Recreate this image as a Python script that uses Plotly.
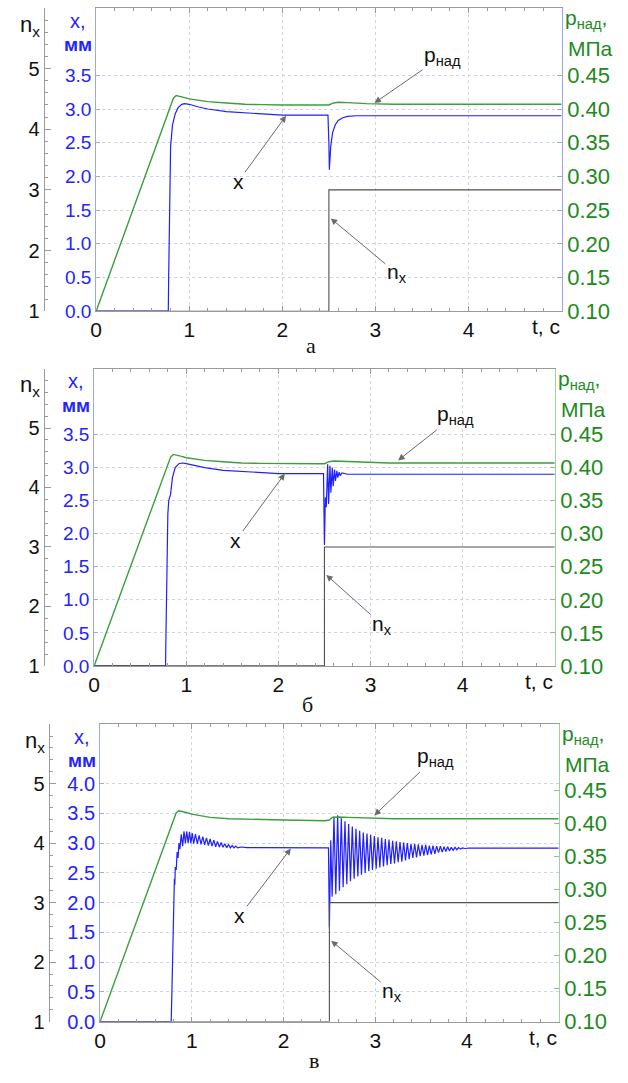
import plotly.graph_objects as go

# ======================= DATA =======================
# time axis ticks and labels
t_ticks = [0, 1, 2, 3, 4]
t_ticktext = ["0", "1", "2", "3", "4"]
x_ticks_ab = [0.0, 0.5, 1.0, 1.5, 2.0, 2.5, 3.0, 3.5]
x_ticks_c = [0.0, 0.5, 1.0, 1.5, 2.0, 2.5, 3.0, 3.5, 4.0]
p_ticks = [0.10, 0.15, 0.20, 0.25, 0.30, 0.35, 0.40, 0.45]
n_ticks = [1, 2, 3, 4, 5]
captions = ["а", "б", "в"]

# n_x step (identical in all three panels)
t_n = [0.0, 2.5, 2.5, 5.0]
n_x = [1, 1, 3, 3]

# ---- panel а ----
t_x_a = [0.0, 0.775, 0.78, 0.79, 0.80, 0.82, 0.85, 0.88, 0.92, 0.95, 1.00, 1.10, 1.20,
         1.40, 1.60, 1.80, 2.00, 2.20, 2.49, 2.50, 2.505, 2.52, 2.54, 2.57, 2.60, 2.65,
         2.70, 2.80, 3.00, 5.00]
x_a = [0.0, 0.0, 0.6, 1.7, 2.45, 2.76, 2.93, 3.02, 3.07, 3.08, 3.07, 3.03, 3.00,
       2.96, 2.94, 2.92, 2.91, 2.91, 2.91, 2.50, 2.10, 2.45, 2.65, 2.77, 2.83, 2.87,
       2.89, 2.90, 2.90, 2.90]
t_p_a = [0.0, 0.83, 0.86, 0.90, 0.95, 1.00, 1.10, 1.20, 1.40, 1.60, 1.80, 2.00, 2.45,
         2.50, 2.55, 2.60, 2.70, 2.90, 3.20, 5.00]
p_a = [0.100, 0.416, 0.420, 0.419, 0.417, 0.415, 0.413, 0.411, 0.409, 0.407, 0.4065,
       0.406, 0.406, 0.406, 0.409, 0.410, 0.4095, 0.408, 0.407, 0.407]

# ---- panel б ----
t_x_b = [0.0, 0.775, 0.78, 0.79, 0.80, 0.81, 0.83, 0.85, 0.88, 0.92, 0.96, 1.00, 1.10,
         1.20, 1.40, 1.60, 1.80, 2.00, 2.49, 2.50, 2.51, 2.52, 2.535, 2.545, 2.56, 2.57,
         2.585, 2.595, 2.61, 2.62, 2.635, 2.645, 2.66, 2.67, 2.69, 2.75, 5.00]
x_b = [0.0, 0.0, 0.5, 1.5, 2.3, 2.5, 2.6, 2.85, 3.00, 3.06, 3.07, 3.06, 3.03,
       3.00, 2.96, 2.94, 2.92, 2.91, 2.91, 1.83, 2.55, 2.40, 3.05, 2.45, 3.03, 2.62,
       3.00, 2.72, 2.97, 2.80, 2.95, 2.85, 2.93, 2.88, 2.92, 2.90, 2.90]
t_p_b = [0.0, 0.83, 0.86, 0.90, 0.95, 1.00, 1.10, 1.20, 1.40, 1.60, 1.80, 2.00, 2.45,
         2.50, 2.55, 2.60, 2.70, 2.90, 3.20, 5.00]
p_b = [0.100, 0.416, 0.420, 0.419, 0.417, 0.415, 0.413, 0.411, 0.409, 0.407, 0.4065,
       0.406, 0.406, 0.406, 0.409, 0.410, 0.4095, 0.408, 0.407, 0.407]

# ---- panel в ----
t_x_c = [0.0, 0.775, 0.78, 0.79, 0.80, 0.81, 0.815, 0.82, 0.83, 0.84, 0.85, 0.86, 0.87,
         0.885, 0.90, 0.915, 0.93, 0.945, 0.96, 0.975, 0.99, 1.005, 1.02, 1.04, 1.06,
         1.08, 1.10, 1.12, 1.14, 1.16, 1.18, 1.20, 1.22, 1.24, 1.26, 1.28, 1.30, 1.32,
         1.34, 1.36, 1.38, 1.40, 1.42, 1.44, 1.46, 1.48, 1.50, 1.54, 1.60, 2.00, 2.49,
         2.50, 2.515, 2.53, 2.55, 2.57, 2.59, 2.61, 2.63, 2.65, 2.67, 2.69, 2.71, 2.73,
         2.75, 2.77, 2.79, 2.81, 2.83, 2.85, 2.87, 2.89, 2.91, 2.93, 2.95, 2.97, 2.99,
         3.01, 3.03, 3.05, 3.07, 3.09, 3.11, 3.13, 3.15, 3.17, 3.19, 3.21, 3.23, 3.25,
         3.27, 3.29, 3.31, 3.33, 3.35, 3.37, 3.39, 3.41, 3.43, 3.45, 3.47, 3.49, 3.51,
         3.53, 3.55, 3.57, 3.59, 3.61, 3.63, 3.65, 3.67, 3.69, 3.71, 3.73, 3.75, 3.77,
         3.79, 3.81, 3.83, 3.85, 3.87, 3.89, 3.91, 3.93, 3.95, 3.98, 4.02, 5.00]
x_c = [0.0, 0.0, 0.3, 1.2, 2.0, 2.4, 2.3, 2.6, 2.55, 2.85, 2.75, 3.0, 2.9,
       3.15, 2.95, 3.2, 3.0, 3.2, 3.0, 3.19, 3.0, 3.17, 2.99, 3.15, 2.99,
       3.13, 2.98, 3.11, 2.97, 3.09, 2.96, 3.07, 2.95, 3.05, 2.94, 3.03, 2.935, 3.01,
       2.93, 2.99, 2.925, 2.975, 2.92, 2.96, 2.92, 2.95, 2.92, 2.935, 2.925, 2.92, 2.92,
       1.58, 3.05, 2.10, 3.45, 2.14, 3.47, 2.20, 3.42, 2.26, 3.37, 2.31, 3.32, 2.36,
       3.28, 2.40, 3.24, 2.44, 3.21, 2.47, 3.18, 2.50, 3.16, 2.53, 3.14, 2.55, 3.12,
       2.57, 3.10, 2.59, 3.09, 2.61, 3.07, 2.63, 3.06, 2.65, 3.04, 2.66, 3.03, 2.68,
       3.02, 2.69, 3.01, 2.71, 3.00, 2.73, 2.99, 2.75, 2.99, 2.76, 2.98, 2.78, 2.97,
       2.79, 2.97, 2.80, 2.96, 2.81, 2.96, 2.82, 2.95, 2.84, 2.95, 2.85, 2.94, 2.86,
       2.94, 2.87, 2.93, 2.88, 2.93, 2.89, 2.925, 2.90, 2.92, 2.91, 2.915, 2.915]
t_p_c = [0.0, 0.83, 0.86, 0.90, 0.95, 1.00, 1.10, 1.20, 1.40, 1.60, 2.00, 2.45, 2.50,
         2.53, 2.60, 2.70, 2.90, 3.20, 5.00]
p_c = [0.100, 0.416, 0.419, 0.418, 0.416, 0.414, 0.411, 0.409, 0.407, 0.406, 0.405,
       0.404, 0.405, 0.409, 0.4095, 0.409, 0.408, 0.407, 0.407]

# annotation anchor points (data coords) : (t, value)
ann_x = [(2.04, 2.90), (2.07, 2.91), (2.08, 2.91)]
ann_p = [(2.99, 0.409), (3.30, 0.411), (2.99, 0.412)]
ann_n = [(2.52, 2.53), (2.52, 2.53), (2.52, 2.36)]

# ======================= STYLE / LAYOUT =======================
W, H = 628, 1083
FONT = "Liberation Sans, Arial, sans-serif"
BLUE_LINE = "#1f1fff"
BLUE_TXT = "#2323ff"
GREEN_LINE = "#3c9e3c"
GREEN_TXT = "#1d8a1d"
GRAY = "#9a9a9a"

panels = [
    dict(left=91, right=561, top=8, bottom=315, xmax=4.5, xt=x_ticks_ab, nxpos=38,
         rline="#9aa6f0", tx=t_x_a, xv=x_a, tp=t_p_a, pv=p_a, xs=19,
         ax_x=(-48, 66), ax_p=(68, -47), ax_n=(66, 55), cap_y=350, cap_x=308),
    dict(left=89, right=554, top=373, bottom=674, xmax=4.5, xt=x_ticks_ab, nxpos=38,
         rline="#9fd09f", tx=t_x_b, xv=x_b, tp=t_p_b, pv=p_b, xs=19,
         ax_x=(-49, 67), ax_p=(57, -45), ax_n=(56, 50), cap_y=713, cap_x=304),
    dict(left=95, right=558, top=733, bottom=1034, xmax=5.0, xt=x_ticks_c, nxpos=43,
         rline="#9fd09f", tx=t_x_c, xv=x_c, tp=t_p_c, pv=p_c, xs=20,
         ax_x=(-51, 67), ax_p=(61, -58), ax_n=(61, 51), cap_y=1073, cap_x=311),
]


def fx(px):
    return px / W


def fy(py):
    return 1 - py / H


fig = go.Figure()
layout = dict(width=W, height=H, autosize=False, margin=dict(l=0, r=0, t=0, b=0),
              paper_bgcolor="white", plot_bgcolor="white", showlegend=False,
              font=dict(family=FONT, size=18, color="black"))
annotations = []

for i, P in enumerate(panels):
    k = i + 1
    xname = "x" if k == 1 else f"x{k}"
    xkey = "xaxis" if k == 1 else f"xaxis{k}"
    yb, yp, yn = 3 * i + 1, 3 * i + 2, 3 * i + 3
    ybn = "y" if yb == 1 else f"y{yb}"
    ybkey = "yaxis" if yb == 1 else f"yaxis{yb}"
    ypn, ypkey = f"y{yp}", f"yaxis{yp}"
    ynn, ynkey = f"y{yn}", f"yaxis{yn}"

    # traces
    fig.add_trace(go.Scatter(x=P["tp"], y=P["pv"], xaxis=xname, yaxis=ypn, mode="lines",
                             line=dict(color=GREEN_LINE, width=1.4), hoverinfo="skip"))
    fig.add_trace(go.Scatter(x=P["tx"], y=P["xv"], xaxis=xname, yaxis=ybn, mode="lines",
                             line=dict(color=BLUE_LINE, width=1.2), hoverinfo="skip"))
    fig.add_trace(go.Scatter(x=t_n, y=n_x, xaxis=xname, yaxis=ynn, mode="lines",
                             line=dict(color="#505050", width=1.1), hoverinfo="skip"))

    layout[xkey] = dict(
        domain=[fx(P["left"]), fx(P["right"])], anchor=ybn, range=[0, 5],
        tickvals=t_ticks, ticktext=t_ticktext, ticks="inside", ticklen=5, tickcolor=GRAY,
        tickfont=dict(size=21, color="#111"), showline=True, linecolor=GRAY, linewidth=1,
        mirror="ticks", showgrid=True, gridcolor="#d4d4d4", griddash="dot", gridwidth=1,
        zeroline=False, fixedrange=True,
        minor=dict(dtick=0.2, ticks="inside", ticklen=3, tickcolor=GRAY, showgrid=False))
    layout[ybkey] = dict(
        domain=[fy(P["bottom"]), fy(P["top"])], anchor=xname, range=[0, P["xmax"]],
        tickvals=P["xt"], ticktext=[f"{v:.1f}" for v in P["xt"]], ticks="inside",
        ticklen=4, tickcolor="#9aa6f0", tickfont=dict(size=P["xs"], color=BLUE_TXT),
        showline=True, linecolor="#9aa6f0", linewidth=1, showgrid=True,
        gridcolor="#ccd2f4", griddash="dot", gridwidth=1, zeroline=False, fixedrange=True)
    layout[ypkey] = dict(
        overlaying=ybn, anchor=xname, side="right", range=[0.10, 0.55],
        tickvals=p_ticks, ticktext=[f"{v:.2f}" for v in p_ticks], ticks="inside",
        ticklen=5, tickcolor="#8fc08f", tickfont=dict(size=22, color=GREEN_TXT),
        showline=True, linecolor=P["rline"], linewidth=1.2, showgrid=False,
        zeroline=False, fixedrange=True)
    layout[ynkey] = dict(
        overlaying=ybn, anchor="free", position=fx(P["nxpos"]), side="left",
        range=[1, 6], tickvals=n_ticks, ticktext=[str(v) for v in n_ticks],
        ticks="inside", ticklen=6, tickcolor=GRAY, tickfont=dict(size=20, color="#111"),
        showline=True, linecolor=GRAY, linewidth=1, showgrid=False, zeroline=False,
        fixedrange=True,
        minor=dict(dtick=0.2, ticks="inside", ticklen=3, tickcolor=GRAY))

    top = P["top"]
    # axis titles
    annotations += [
        dict(text="n<sub>x</sub>", x=fx(P["nxpos"] - 14), y=fy(top + 2), xref="paper",
             yref="paper", xanchor="center", yanchor="top", showarrow=False,
             font=dict(size=22, color="#111")),
        dict(text="x,", x=fx(P["left"] - 18), y=fy(top + 13), xref="paper", yref="paper",
             xanchor="center", yanchor="middle", showarrow=False,
             font=dict(size=20, color=BLUE_TXT)),
        dict(text="<b>мм</b>", x=fx(P["left"] - 18), y=fy(top + 37), xref="paper",
             yref="paper", xanchor="center", yanchor="middle", showarrow=False,
             font=dict(size=19, color=BLUE_TXT)),
        dict(text="p<sub>над</sub>,", x=fx(P["right"] + 1), y=fy(top - 4), xref="paper",
             yref="paper", xanchor="left", yanchor="top", showarrow=False,
             font=dict(size=21, color=GREEN_TXT)),
        dict(text="МПа", x=fx(P["right"] + 4), y=fy(top + 41), xref="paper",
             yref="paper", xanchor="left", yanchor="middle", showarrow=False,
             font=dict(size=21, color=GREEN_TXT)),
        dict(text="t, c", x=fx(P["right"]), y=fy(P["bottom"] + 2), xref="paper",
             yref="paper", xanchor="right", yanchor="top", showarrow=False,
             font=dict(size=21, color="#111")),
        dict(text=captions[i], x=fx(P["cap_x"]), y=fy(P["cap_y"]), xref="paper",
             yref="paper", xanchor="center", yanchor="middle", showarrow=False,
             font=dict(size=22, color="#111", family="Liberation Serif, Times New Roman, serif")),
    ]
    # arrow call-outs
    arrow = dict(showarrow=True, arrowhead=2, arrowsize=1.3, arrowwidth=1,
                 arrowcolor="#6a6a6a", font=dict(size=21, color="#111"))
    annotations += [
        dict(text="x", x=ann_x[i][0], y=ann_x[i][1], xref=xname, yref=ybn,
             ax=P["ax_x"][0], ay=P["ax_x"][1], **arrow),
        dict(text="p<sub>над</sub>", x=ann_p[i][0], y=ann_p[i][1], xref=xname, yref=ypn,
             ax=P["ax_p"][0], ay=P["ax_p"][1], **arrow),
        dict(text="n<sub>x</sub>", x=ann_n[i][0], y=ann_n[i][1], xref=xname, yref=ynn,
             ax=P["ax_n"][0], ay=P["ax_n"][1], **arrow),
    ]

layout["annotations"] = annotations
fig.update_layout(**layout)
fig.write_html(
    "out.html",
    config={"displayModeBar": False, "staticPlot": True},
    post_script="document.body.style.margin='0';document.body.style.padding='0';"
                "document.body.style.overflow='hidden';"
                "document.documentElement.style.overflow='hidden';",
)
